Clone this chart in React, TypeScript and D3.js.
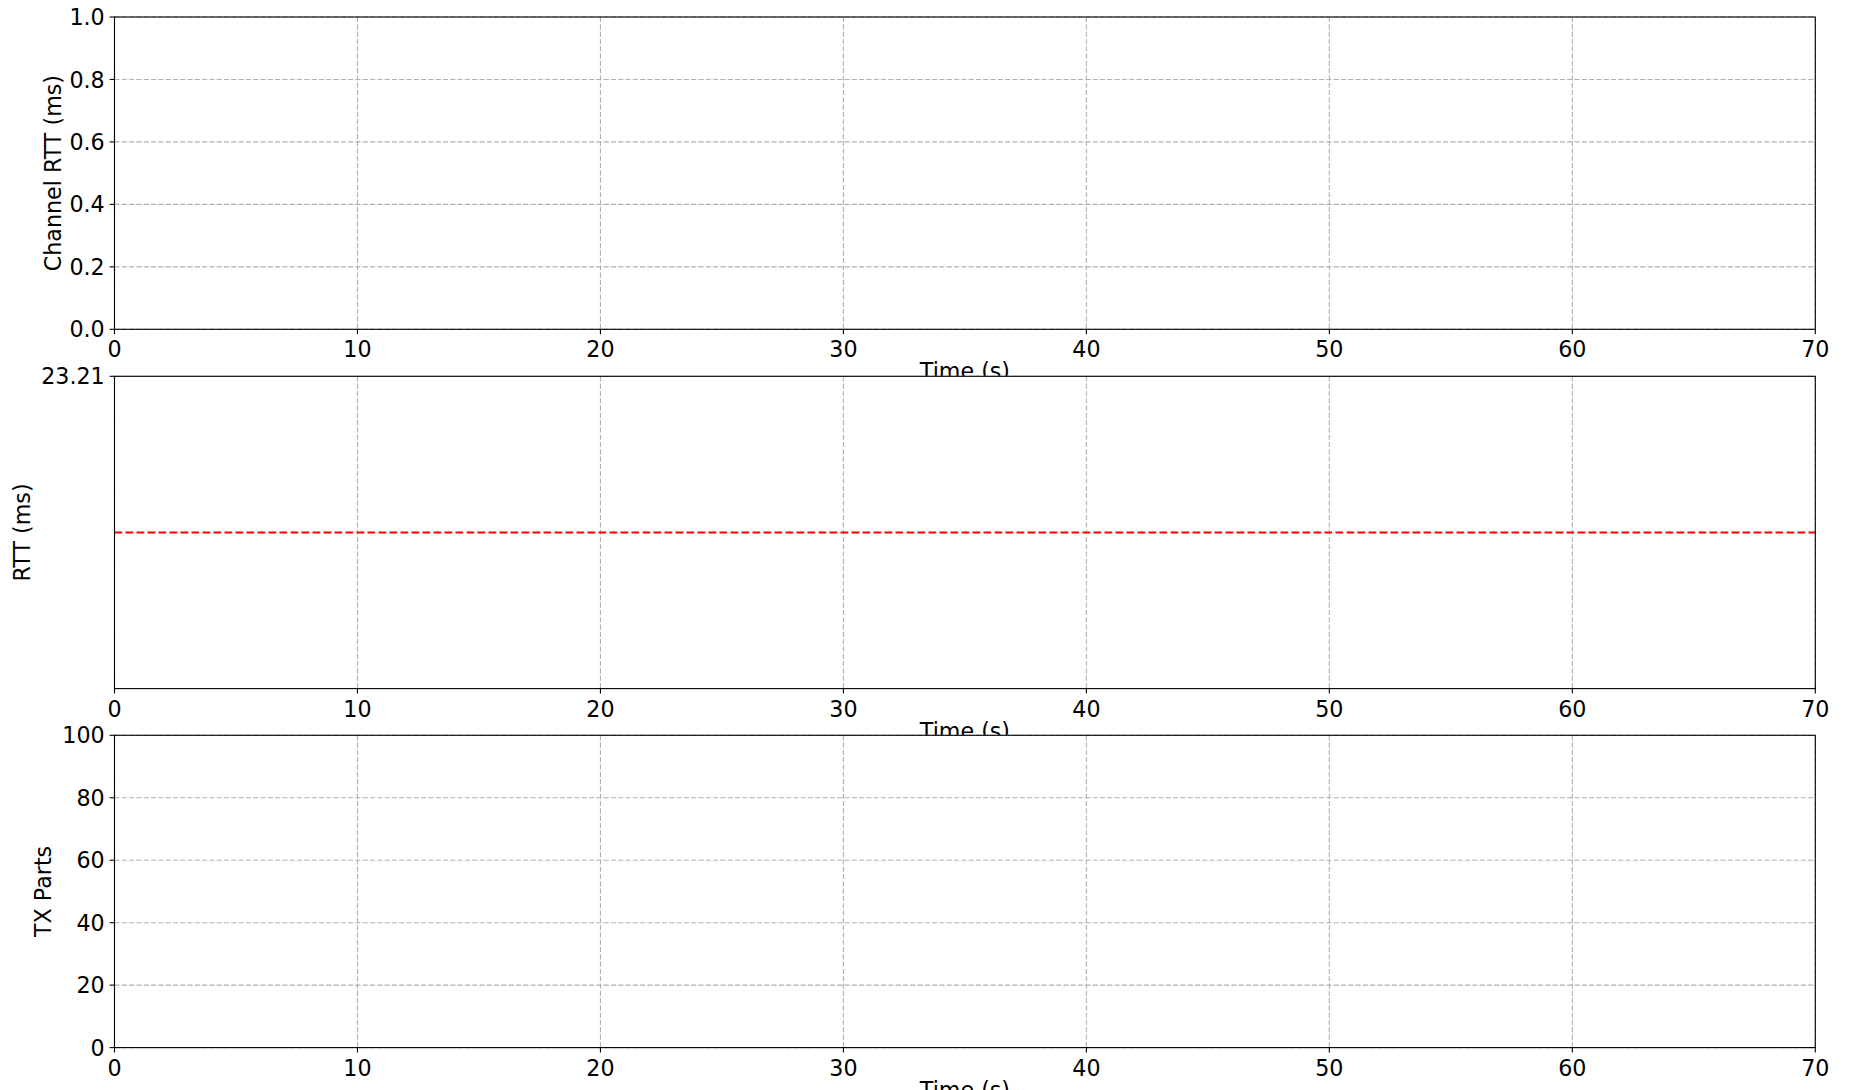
import React from "react";
import * as d3 from "d3";

const timeDomain = [0, 70];
const timeTicks = [0, 10, 20, 30, 40, 50, 60, 70];
const chanDomain = [0, 1];
const chanTicks = [0, 0.2, 0.4, 0.6, 0.8, 1.0];
const rttDomain = [0, 23.21];
const rttTicks = [23.21];
const rttTime = [0, 70];
const rttValues = [11.605, 11.605];
const txDomain = [0, 100];
const txTicks = [0, 20, 40, 60, 80, 100];

const W = 1850;
const H = 1090;
const L = 114.5;
const R = 1815.3;
const FS = 22.2;
const FONT = "DejaVu Sans";

type Panel = {
  top: number;
  bottom: number;
  domain: number[];
  ticks: number[];
  fmt: (v: number) => string;
  label: string;
  labelX: number;
  line?: boolean;
};

const panels: Panel[] = [
  { top: 17, bottom: 329.3, domain: chanDomain, ticks: chanTicks, fmt: (v) => v.toFixed(1), label: "Channel RTT (ms)", labelX: 60.5 },
  { top: 376.3, bottom: 688.6, domain: rttDomain, ticks: rttTicks, fmt: (v) => v.toFixed(2), label: "RTT (ms)", labelX: 30, line: true },
  { top: 735.3, bottom: 1047.6, domain: txDomain, ticks: txTicks, fmt: (v) => String(v), label: "TX Parts", labelX: 51 },
];

function PanelView({ p }: { p: Panel }) {
  const x = d3.scaleLinear().domain(timeDomain).range([L, R]);
  const y = d3.scaleLinear().domain(p.domain).range([p.bottom, p.top]);
  const lineGen = d3
    .line<number>()
    .x((_, i) => x(rttTime[i]))
    .y((d) => y(d));
  const cy = (p.top + p.bottom) / 2;
  return (
    <g>
      <rect x={L} y={p.top} width={R - L} height={p.bottom - p.top} fill="#fff" />
      {timeTicks.map((t) => (
        <line key={"gx" + t} x1={x(t)} x2={x(t)} y1={p.top} y2={p.bottom} stroke="#b0b0b0" strokeWidth={1.1} strokeDasharray="5.1,2.2" />
      ))}
      {p.ticks.map((t) => (
        <line key={"gy" + t} x1={L} x2={R} y1={y(t)} y2={y(t)} stroke="#b0b0b0" strokeWidth={1.1} strokeDasharray="5.1,2.2" />
      ))}
      {p.line && (
        <path d={lineGen(rttValues) || ""} fill="none" stroke="#ff0000" strokeWidth={2.1} strokeDasharray="7.7,3.3" />
      )}
      <rect x={L} y={p.top} width={R - L} height={p.bottom - p.top} fill="none" stroke="#000" strokeWidth={1.1} />
      {timeTicks.map((t) => (
        <g key={"tx" + t}>
          <line x1={x(t)} x2={x(t)} y1={p.bottom} y2={p.bottom + 4.9} stroke="#000" strokeWidth={1.1} />
          <text x={x(t)} y={p.bottom + 28} textAnchor="middle" fontSize={FS} fontFamily={FONT} fill="#000">{t}</text>
        </g>
      ))}
      {p.ticks.map((t) => (
        <g key={"ty" + t}>
          <line x1={L - 4.9} x2={L} y1={y(t)} y2={y(t)} stroke="#000" strokeWidth={1.1} />
          <text x={L - 9.8} y={y(t) + 8.1} textAnchor="end" fontSize={FS} fontFamily={FONT} fill="#000">{p.fmt(t)}</text>
        </g>
      ))}
      <text transform={`translate(${p.labelX},${cy}) rotate(-90)`} textAnchor="middle" fontSize={FS} fontFamily={FONT} fill="#000">{p.label}</text>
      <text x={(L + R) / 2} y={p.bottom + 50} textAnchor="middle" fontSize={FS} fontFamily={FONT} fill="#000">Time (s)</text>
    </g>
  );
}

export default function App() {
  return (
    <div style={{ position: "absolute", left: 0, top: 0, width: W, height: H }}>
      <svg width={W} height={H} viewBox={`0 0 ${W} ${H}`} style={{ display: "block", background: "#fff" }}>
        <rect x={0} y={0} width={W} height={H} fill="#fff" />
        {panels.map((p, i) => (
          <PanelView key={i} p={p} />
        ))}
      </svg>
    </div>
  );
}
